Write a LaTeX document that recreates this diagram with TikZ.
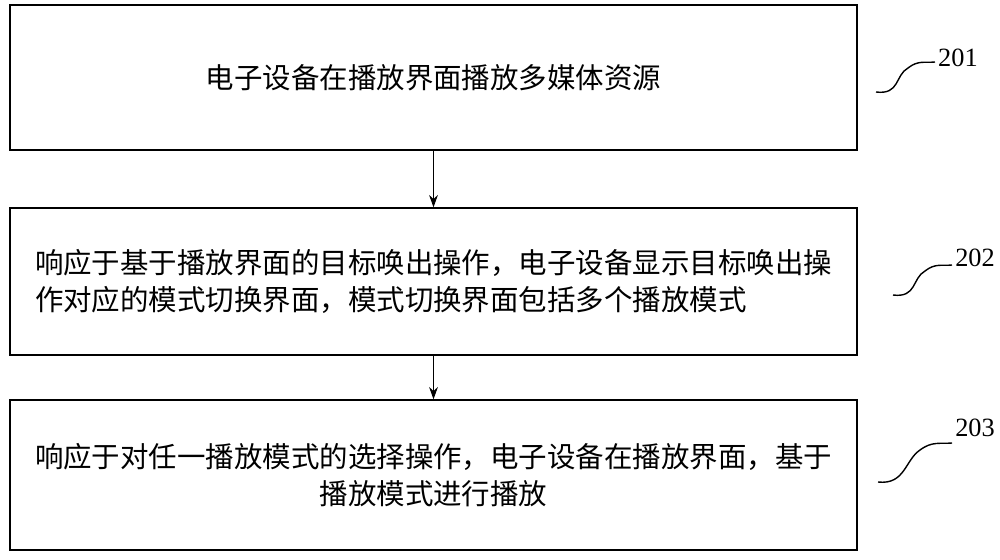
\documentclass[tikz,border=0pt]{standalone}
\usepackage{fontspec}
\setmainfont{Noto Sans CJK SC}
\newfontfamily\numfont{Liberation Serif}
\usetikzlibrary{arrows.meta}
\tikzset{stepbox/.style={draw=black, line width=0.8pt, minimum width=16.94cm, inner sep=0pt,
  font=\fontsize{16.2}{21}\selectfont},
  steplabel/.style={font=\numfont\fontsize{15}{17}\selectfont},
  flow/.style={draw, line width=0.8pt, -{Stealth[length=7pt,width=5pt]}},
  wave/.style={draw, line width=0.8pt}}
\begin{document}
\begin{tikzpicture}[x=0.02cm, y=-0.02cm]
\useasboundingbox (0,0) rectangle (1000,559);

\node [stepbox, minimum height=2.9cm] (box1) at (433.5,77.5) {电子设备在播放界面播放多媒体资源};
\node [stepbox, minimum height=2.94cm, align=left] (box2) at (433.5,281.5)
  {响应于基于播放界面的目标唤出操作，电子设备显示目标唤出操\\作对应的模式切换界面，模式切换界面包括多个播放模式};
\node [stepbox, minimum height=3cm, align=center] (box3) at (433.5,475)
  {响应于对任一播放模式的选择操作，电子设备在播放界面，基于\\播放模式进行播放};

\path [flow] (box1.south) -- (box2.north);
\path [flow] (box2.south) -- (box3.north);

\node [steplabel] (lab1) at (958,58) {201};
\node [steplabel] (lab2) at (975,258) {202};
\node [steplabel] (lab3) at (975,428) {203};

\path [wave] (876,92) .. controls (900,95) and (895,75) .. (908,68) .. controls (918,60) and (925,63) .. (935,62);
\path [wave] (893,295) .. controls (917,298) and (912,278) .. (925,271) .. controls (935,263) and (942,266) .. (952,265);
\path [wave] (878,482) .. controls (905,485) and (905,460) .. (920,450) .. controls (932,441) and (940,444) .. (952,443);
\end{tikzpicture}
\end{document}
